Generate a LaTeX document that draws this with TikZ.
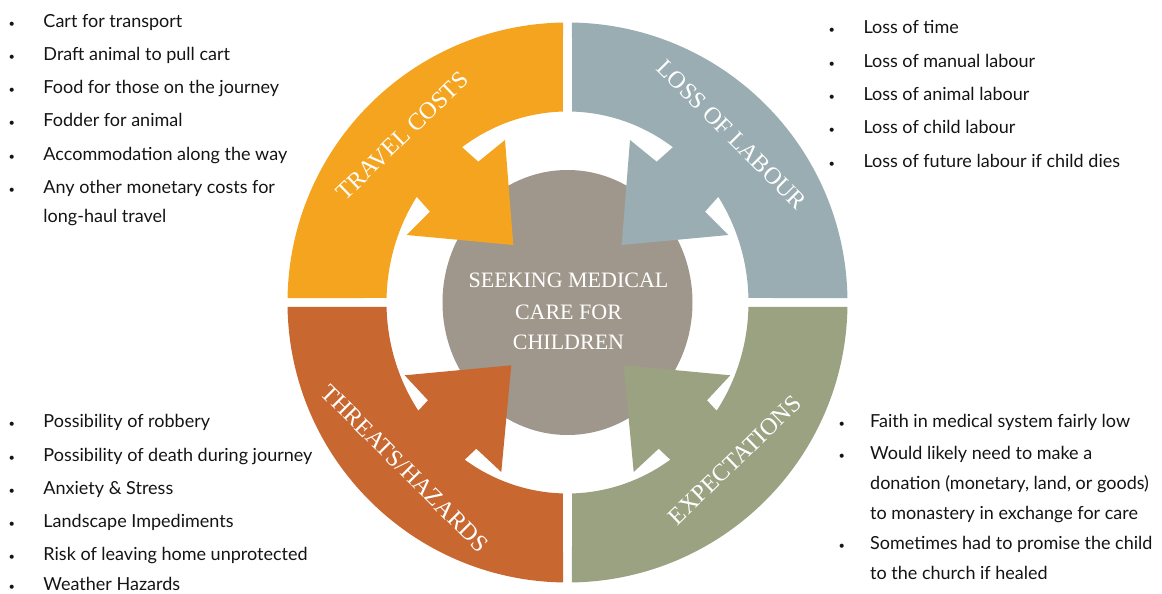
\documentclass[tikz,border=0pt]{standalone}
\usepackage{fontspec}
\setmainfont{Liberation Serif}
\newfontfamily\bodyfont{Lato}
\definecolor{cOrange}{RGB}{245,164,32}
\definecolor{cBlue}{RGB}{154,173,178}
\definecolor{cGreen}{RGB}{155,162,130}
\definecolor{cRust}{RGB}{200,103,48}
\definecolor{cGrey}{RGB}{160,151,140}
\definecolor{cText}{RGB}{20,20,20}
\newcommand\quadTopPath{(90.92:280pt) arc[start angle=90.92, end angle=179.08, radius=280pt]
  -- (-180.95,4.5) arc[start angle=178.65, end angle=146.4, x radius=181pt, y radius=191pt]
  -- (-137.5,90.8) -- (-160.8,67.5) -- (-54.2,57.5) -- (-62.5,162.5) -- (-89.2,140.8)
  -- (-105.4,155.3) arc[start angle=125.6, end angle=91.42, x radius=181pt, y radius=191pt] -- cycle}
\newcommand\quadBotPath{(-89.08:280pt) arc[start angle=-89.08, end angle=-0.92, radius=280pt]
  -- (180.95,-4.5) arc[start angle=-1.35, end angle=-34.5, x radius=181pt, y radius=191pt]
  -- (139.5,-97.8) -- (162.8,-72.8) -- (56.2,-62.8) -- (66.2,-169.5) -- (91.2,-146.2)
  -- (102.8,-157.2) arc[start angle=-55.4, end angle=-88.58, x radius=181pt, y radius=191pt] -- cycle}
\begin{document}
\begin{tikzpicture}[x=1pt,y=1pt,
  body/.style={font=\bodyfont\fontsize{18}{21}\selectfont, text=cText, inner sep=0pt, anchor=mid west},
  bul/.style={font=\bodyfont\fontsize{11}{13}\selectfont, text=cText, inner sep=0pt, anchor=mid},
  ringlabel/.style={font=\fontsize{24}{28}\selectfont, text=white, inner sep=0pt},
  centertext/.style={font=\fontsize{22}{26}\selectfont, text=white, inner sep=0pt, anchor=base}]
\useasboundingbox (-567.5,-291.5) rectangle (594.5,302.5);
% centre disc
\fill[cGrey] (0,0) ellipse[x radius=125pt, y radius=132.5pt];
% quadrants
\fill[cOrange] \quadTopPath;
\begin{scope}[xscale=-1]
\fill[cBlue] \quadTopPath;
\end{scope}
\fill[cGreen] \quadBotPath;
\begin{scope}[xscale=-1]
\fill[cRust] \quadBotPath;
\end{scope}
% centre text
\node[centertext] (c1) at (1,14.5) {SEEKING MEDICAL};
\node[centertext] (c2) at (1,-17.5) {CARE FOR};
\node[centertext] (c3) at (1,-47.5) {CHILDREN};
% ring labels
\node[ringlabel, rotate=44] (travel) at (-165,166.7) {TRAVEL COSTS};
\node[ringlabel, rotate=-45] (labour) at (164.2,167.7) {LOSS OF LABOUR};
\node[ringlabel, rotate=-45] (threats) at (-162.5,-165.8) {THREATS/HAZARDS};
\node[ringlabel, rotate=44] (expect) at (167.5,-157.5) {EXPECTATIONS};
% top-left list
\node[bul] (tlb1) at (-555.8,277) {•};
\node[body] (tl1) at (-524.2,277) {Cart for transport};
\node[bul] (tlb2) at (-555.8,244) {•};
\node[body] (tl2) at (-524.2,244) {Draft animal to pull cart};
\node[bul] (tlb3) at (-555.8,211) {•};
\node[body] (tl3) at (-524.2,211) {Food for those on the journey};
\node[bul] (tlb4) at (-555.8,178) {•};
\node[body] (tl4) at (-524.2,178) {Fodder for animal};
\node[bul] (tlb5) at (-555.8,144.5) {•};
\node[body] (tl5) at (-524.2,144.5) {Accommodation along the way};
\node[bul] (tlb6) at (-555.8,111.5) {•};
\node[body] (tl6) at (-524.2,111.5) {Any other monetary costs for};
\node[body] (tl7) at (-524.2,82.5) {long-haul travel};
% top-right list
\node[bul] (trb1) at (264.2,271) {•};
\node[body] (tr1) at (295.8,271) {Loss of time};
\node[bul] (trb2) at (264.2,237.5) {•};
\node[body] (tr2) at (295.8,237.5) {Loss of manual labour};
\node[bul] (trb3) at (264.2,204.5) {•};
\node[body] (tr3) at (295.8,204.5) {Loss of animal labour};
\node[bul] (trb4) at (264.2,171) {•};
\node[body] (tr4) at (295.8,171) {Loss of child labour};
\node[bul] (trb5) at (264.2,137.5) {•};
\node[body] (tr5) at (295.8,137.5) {Loss of future labour if child dies};
% bottom-left list
\node[bul] (blb1) at (-555.8,-123.2) {•};
\node[body] (bl1) at (-524.2,-123.2) {Possibility of robbery};
\node[bul] (blb2) at (-555.8,-156.5) {•};
\node[body] (bl2) at (-524.2,-156.5) {Possibility of death during journey};
\node[bul] (blb3) at (-555.8,-189.5) {•};
\node[body] (bl3) at (-524.2,-189.5) {Anxiety \& Stress};
\node[bul] (blb4) at (-555.8,-222.5) {•};
\node[body] (bl4) at (-524.2,-222.5) {Landscape Impediments};
\node[bul] (blb5) at (-555.8,-255.5) {•};
\node[body] (bl5) at (-524.2,-255.5) {Risk of leaving home unprotected};
\node[bul] (blb6) at (-555.8,-286) {•};
\node[body] (bl6) at (-524.2,-286) {Weather Hazards};
% bottom-right list
\node[bul] (brb1) at (274.2,-122.8) {•};
\node[body] (br1) at (302.5,-122.8) {Faith in medical system fairly low};
\node[bul] (brb2) at (274.2,-154.5) {•};
\node[body] (br2) at (302.5,-154.5) {Would likely need to make a};
\node[body] (br3) at (302.5,-184.5) {donation (monetary, land, or goods)};
\node[body] (br4) at (302.5,-214.5) {to monastery in exchange for care};
\node[bul] (brb5) at (274.2,-244.5) {•};
\node[body] (br5) at (302.5,-244.5) {Sometimes had to promise the child};
\node[body] (br6) at (302.5,-274.5) {to the church if healed};
\end{tikzpicture}
\end{document}
